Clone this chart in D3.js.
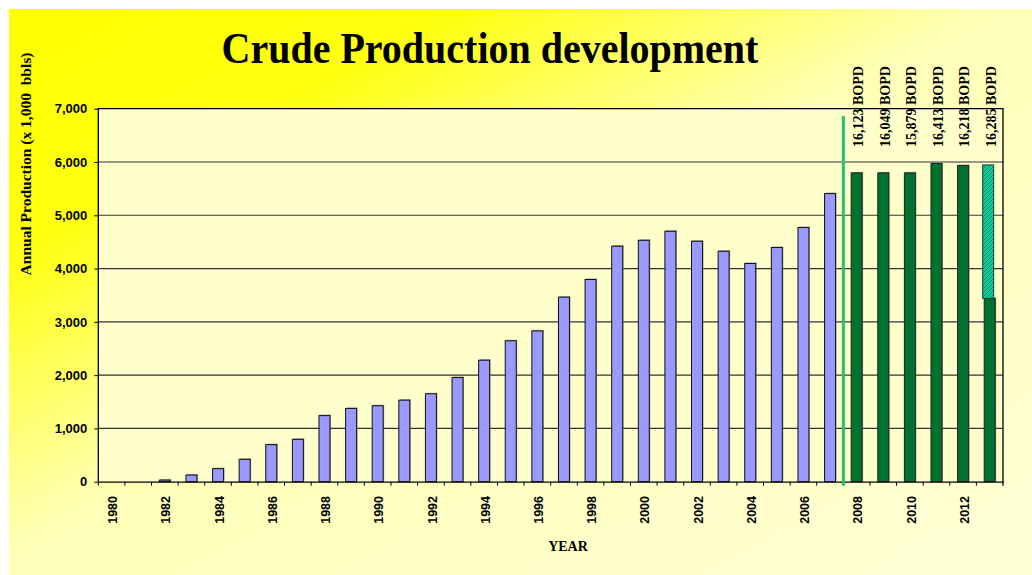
<!DOCTYPE html>
<html>
<head>
<meta charset="utf-8">
<script src="https://cdn.jsdelivr.net/npm/d3@7"></script>
<style>
  body { margin: 0; background: #fff; }
  svg { display: block; }
  .serif { font-family: "Times New Roman", "Liberation Serif", serif; font-weight: bold; }
  .sans { font-family: Arial, "Liberation Sans", sans-serif; font-weight: bold; }
</style>
</head>
<body>
<svg id="chart"></svg>
<script>
// actual production, thousand bbls per year
const actualYears = [1980, 1981, 1982, 1983, 1984, 1985, 1986, 1987, 1988, 1989,
  1990, 1991, 1992, 1993, 1994, 1995, 1996, 1997, 1998, 1999,
  2000, 2001, 2002, 2003, 2004, 2005, 2006, 2007];
const actualValues = [0, 0, 30, 125, 245, 420, 695, 795, 1240, 1375,
  1425, 1530, 1650, 1955, 2280, 2645, 2830, 3463, 3795, 4420,
  4530, 4700, 4513, 4325, 4095, 4395, 4770, 5407];

// plan years
const planYears = [2008, 2009, 2010, 2011, 2012, 2013];
const planValues = [5795, 5795, 5795, 5972, 5933, 3440];
const planBopd = ["16,123", "16,049", "15,879", "16,413", "16,218", "16,285"];

// hatched upside on top of the plan bar
const upsideYears = [2013];
const upsideValues = [2505];

const yTicks = [0, 1000, 2000, 3000, 4000, 5000, 6000, 7000];
const xLabelYears = [1980, 1982, 1984, 1986, 1988, 1990, 1992, 1994, 1996, 1998,
  2000, 2002, 2004, 2006, 2008, 2010, 2012];

const width = 1032, height = 575;
const plotL = 98.3, plotR = 1003, plotT = 108.7, plotB = 481.7;

const svg = d3.select("#chart").attr("width", width).attr("height", height);
const defs = svg.append("defs");

const bg = defs.append("linearGradient").attr("id", "bg")
    .attr("x1", 0).attr("y1", 0).attr("x2", 1).attr("y2", 1);
bg.append("stop").attr("offset", 0).attr("stop-color", "#ffff00");
bg.append("stop").attr("offset", 0.22).attr("stop-color", "#ffff10");
bg.append("stop").attr("offset", 0.48).attr("stop-color", "#ffffb8");
bg.append("stop").attr("offset", 1).attr("stop-color", "#ffffd8");

const hatch = defs.append("pattern").attr("id", "hatch")
    .attr("patternUnits", "userSpaceOnUse").attr("width", 4).attr("height", 4);
hatch.append("rect").attr("width", 4).attr("height", 4).attr("fill", "#11cc99");
hatch.append("path").attr("d", "M0,4 L4,0 M-1,1 L1,-1 M3,5 L5,3")
    .attr("stroke", "#0a8f6c").attr("stroke-width", 1);

svg.append("rect").attr("x", 9).attr("y", 9)
    .attr("width", width - 9).attr("height", height - 9)
    .attr("fill", "url(#bg)");

const allYears = actualYears.concat(planYears);
const x = d3.scaleBand(allYears, [plotL, plotR]).paddingInner(0.587).paddingOuter(0.2935);
const y = d3.scaleLinear([0, 7000], [plotB, plotT]);

// plot area
svg.append("rect").attr("x", plotL).attr("y", plotT)
    .attr("width", plotR - plotL).attr("height", plotB - plotT)
    .attr("fill", "#ffffcc");

// gridlines
svg.append("g")
  .selectAll("line")
  .data(yTicks.filter(d => d > 0 && d < 7000))
  .join("line")
    .attr("x1", plotL).attr("x2", plotR)
    .attr("y1", d => y(d)).attr("y2", d => y(d))
    .attr("stroke", "#333").attr("stroke-width", 1.2);

const barShadow = (g, data) => g.selectAll("rect.sh")
  .data(data)
  .join("rect")
    .attr("class", "sh")
    .attr("x", d => x(d[0]) + 1)
    .attr("y", d => y(d[1]) - 1)
    .attr("width", x.bandwidth())
    .attr("height", d => plotB - y(d[1]))
    .attr("fill", "#777").attr("opacity", 0.7);

const actual = actualYears.map((d, i) => [d, actualValues[i]]).filter(d => d[1] > 0);
const plan = planYears.map((d, i) => [d, planValues[i]]);

svg.append("g").call(barShadow, actual.concat(plan));

svg.append("g")
  .selectAll("rect")
  .data(actual)
  .join("rect")
    .attr("x", d => x(d[0]))
    .attr("y", d => y(d[1]))
    .attr("width", x.bandwidth())
    .attr("height", d => plotB - y(d[1]))
    .attr("fill", "#9999ff")
    .attr("stroke", "#111").attr("stroke-width", 1);

svg.append("g")
  .selectAll("rect")
  .data(plan)
  .join("rect")
    .attr("x", d => x(d[0]))
    .attr("y", d => y(d[1]))
    .attr("width", x.bandwidth())
    .attr("height", d => plotB - y(d[1]))
    .attr("fill", "#00722f")
    .attr("stroke", "#222").attr("stroke-width", 1);

// upside stacked on top of plan bar
svg.append("g")
  .selectAll("rect")
  .data(upsideYears.map((d, i) => [d, planValues[planYears.indexOf(d)], upsideValues[i]]))
  .join("rect")
    .attr("x", d => x(d[0]) - 1.5)
    .attr("y", d => y(d[1] + d[2]))
    .attr("width", x.bandwidth())
    .attr("height", d => y(d[1]) - y(d[1] + d[2]))
    .attr("fill", "url(#hatch)")
    .attr("stroke", "#1a3a30").attr("stroke-width", 1);

// frame: top and right border
svg.append("path")
    .attr("d", `M${plotL},${plotB}V${plotT}H${plotR}V${plotB + 4}`)
    .attr("fill", "none").attr("stroke", "#000").attr("stroke-width", 1.3);

// x axis, ticks on band boundaries
svg.append("g")
    .attr("transform", `translate(0,${plotB})`)
    .call(d3.axisBottom(x).tickSize(0).tickFormat(""))
    .call(g => g.select(".domain").attr("stroke", "#000").attr("stroke-width", 1.3))
    .call(g => g.selectAll(".tick").remove());

const step = x.step();
const gap = (step - x.bandwidth()) / 2;
svg.append("g")
  .selectAll("line")
  .data(allYears)
  .join("line")
    .attr("x1", d => x(d) - gap)
    .attr("x2", d => x(d) - gap)
    .attr("y1", plotB).attr("y2", plotB + 4)
    .attr("stroke", "#000");

svg.append("g")
    .attr("class", "sans")
    .attr("font-size", 12.5)
  .selectAll("text")
  .data(xLabelYears)
  .join("text")
    .attr("transform", d => `translate(${x(d) + x.bandwidth() / 2 + 1.3},496) rotate(-90)`)
    .attr("text-anchor", "end")
    .attr("dy", "0.35em")
    .text(d => d);

// y axis
svg.append("g")
    .attr("transform", `translate(${plotL},0)`)
    .call(d3.axisLeft(y).tickValues(yTicks).tickSize(4).tickPadding(7).tickFormat(d3.format(",")))
    .call(g => g.select(".domain").remove())
    .call(g => g.selectAll(".tick line").attr("stroke", "#000"))
    .call(g => g.selectAll(".tick text")
        .attr("class", "sans").attr("font-size", 13).attr("fill", "#000"));

// plan separator
svg.append("line")
    .attr("x1", x(2008) - gap)
    .attr("x2", x(2008) - gap)
    .attr("y1", 116).attr("y2", plotB + 4)
    .attr("stroke", "#22c46c").attr("stroke-width", 3);

// BOPD labels
svg.append("g")
    .attr("class", "serif")
    .attr("font-size", 14)
  .selectAll("text")
  .data(planYears.map((d, i) => [d, planBopd[i]]))
  .join("text")
    .attr("transform", d => `translate(${x(d[0]) + x.bandwidth() / 2 + 1.5},147) rotate(-90)`)
    .attr("dy", "0.35em")
    .text(d => `${d[1]} BOPD`);

// titles
svg.append("text")
    .attr("class", "serif")
    .attr("font-size", 40)
    .attr("text-anchor", "middle")
    .attr("transform", "translate(490,63) scale(1,1.1)")
    .text("Crude Production development");

svg.append("text")
    .attr("class", "serif")
    .attr("font-size", 15.5)
    .attr("text-anchor", "middle")
    .attr("transform", "translate(26,164) rotate(-90)")
    .attr("dy", "0.35em")
    .attr("xml:space", "preserve")
    .text("Annual Production (x 1,000  bbls)");

svg.append("text")
    .attr("class", "serif")
    .attr("font-size", 14)
    .attr("text-anchor", "middle")
    .attr("x", 568).attr("y", 551)
    .text("YEAR");
</script>
</body>
</html>
